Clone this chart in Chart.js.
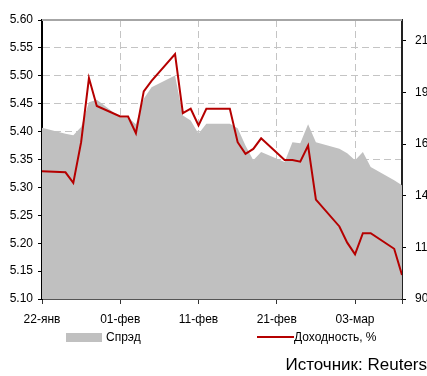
<!DOCTYPE html>
<html>
<head>
<meta charset="utf-8">
<script src="https://cdn.jsdelivr.net/npm/chart.js@4"></script>
<style>
  html, body { margin: 0; padding: 0; background: #fff; }
  #wrap { position: relative; width: 427px; height: 376px; overflow: hidden; font-family: "Liberation Sans", Arial, sans-serif; color: #000; }
  canvas { position: absolute; left: 0; top: 0; }
  .lg { position: absolute; font-size: 12px; line-height: 14px; white-space: nowrap; }
  .sw { position: absolute; }
  #src { position: absolute; right: 0; top: 355px; font-size: 17px; white-space: nowrap; }
</style>
</head>
<body>
<div id="wrap">
  <canvas id="c" width="427" height="376"></canvas>
  <div class="sw" style="left:66px;top:333px;width:36px;height:9px;background:#c0c0c0;"></div>
  <div class="lg" style="left:106px;top:330px;">Спрэд</div>
  <div class="sw" style="left:257px;top:336px;width:37px;height:2px;background:#b50000;"></div>
  <div class="lg" style="left:294px;top:330px;">Доходность, %</div>
  <div id="src">Источник: Reuters</div>
</div>
<script>
// Trading days, counted from 22 January
const dayOffsets = [0, 3, 4, 5, 6, 7, 10, 11, 12, 13, 14, 17, 18, 19, 20, 21, 24, 25, 26, 27, 28, 31, 32, 33, 34, 35, 38, 39, 40, 41, 42, 45, 46];
// Yield, % (left axis)
const yieldValues = [5.329, 5.327, 5.308, 5.381, 5.496, 5.446, 5.427, 5.427, 5.397, 5.472, 5.491, 5.539, 5.433, 5.441, 5.411, 5.441, 5.441, 5.381, 5.360, 5.369, 5.388, 5.349, 5.349, 5.346, 5.375, 5.278, 5.230, 5.201, 5.180, 5.218, 5.218, 5.190, 5.143];
// Spread, bp (right axis)
const spreadValues = [172.9, 170.0, 169.2, 173.2, 185.2, 186.4, 177.8, 177.8, 174.5, 186.9, 192.5, 198.1, 178.8, 176.4, 170.0, 174.8, 174.8, 172.6, 164.3, 157.1, 161.1, 156.3, 165.9, 165.4, 174.5, 165.9, 162.7, 160.5, 157.1, 161.1, 153.9, 147.4, 145.0];
// Date labels every ten days
const tickLabels = ['22-янв', '01-фев', '11-фев', '21-фев', '03-мар'];
// Right-axis tick values
const spreadTicks = [90, 115, 140, 165, 190, 215];

const font = { family: '"Liberation Sans", Arial, sans-serif', size: 12 };
const gridColor = '#c4c4c4';

const toPoints = (vals) => dayOffsets.map((d, i) => ({ x: d, y: vals[i] }));

// Solid grey frame line along the top of the plot
const topFrame = {
  id: 'topFrame',
  afterDatasetsDraw(chart) {
    const { ctx, chartArea: a } = chart;
    ctx.save();
    ctx.strokeStyle = '#a6a6a6';
    ctx.lineWidth = 2;
    ctx.beginPath();
    ctx.moveTo(a.left, a.top);
    ctx.lineTo(a.right, a.top);
    ctx.stroke();
    ctx.restore();
  }
};

new Chart(document.getElementById('c'), {
  type: 'line',
  data: {
    datasets: [
      {
        label: 'Доходность, %',
        data: toPoints(yieldValues),
        yAxisID: 'y',
        borderColor: '#b50000',
        borderWidth: 2,
        pointRadius: 0,
        fill: false,
        tension: 0,
        order: 0
      },
      {
        label: 'Спрэд',
        data: toPoints(spreadValues),
        yAxisID: 'y1',
        borderWidth: 0,
        borderColor: 'rgba(0,0,0,0)',
        backgroundColor: '#c0c0c0',
        pointRadius: 0,
        fill: 'start',
        tension: 0,
        order: 1
      }
    ]
  },
  options: {
    responsive: false,
    animation: false,
    layout: { padding: { top: 20, left: 0, right: 0, bottom: 0 } },
    plugins: { legend: { display: false }, tooltip: { enabled: false } },
    scales: {
      x: {
        type: 'linear',
        min: 0,
        max: 46,
        afterFit(s) { s.height = 77; },
        ticks: {
          stepSize: 10,
          autoSkip: false,
          maxRotation: 0,
          padding: 8,
          color: '#000',
          font,
          callback: (v) => tickLabels[Math.round(v / 10)] ?? ''
        },
        grid: {
          color: (ctx) => (ctx.tick && ctx.tick.value === 0 ? 'rgba(0,0,0,0)' : gridColor),
          lineWidth: 1,
          tickLength: 5,
          tickColor: '#333',
          tickWidth: 1,
          tickBorderDash: []
        },
        border: { display: true, color: '#555', width: 2, dash: [7, 4] }
      },
      y: {
        position: 'left',
        min: 5.10,
        max: 5.60,
        afterFit(s) { s.width = 42; },
        ticks: {
          stepSize: 0.05,
          padding: 5,
          color: '#000',
          font,
          callback: (v) => Number(v).toFixed(2)
        },
        grid: {
          color: (ctx) => {
            const v = ctx.tick ? ctx.tick.value : 0;
            return (Math.abs(v - 5.60) < 1e-6 || Math.abs(v - 5.10) < 1e-6) ? 'rgba(0,0,0,0)' : gridColor;
          },
          lineWidth: 1,
          tickLength: 4,
          tickColor: '#000',
          tickBorderDash: []
        },
        border: { display: true, color: '#000', width: 2, dash: [7, 4] }
      },
      y1: {
        position: 'right',
        min: 90,
        max: 225,
        afterFit(s) { s.width = 25; },
        afterBuildTicks(s) { s.ticks = spreadTicks.map((v) => ({ value: v })); },
        ticks: {
          padding: 9,
          color: '#000',
          font
        },
        grid: {
          drawOnChartArea: false,
          tickLength: 4,
          tickColor: '#000',
          tickBorderDash: []
        },
        border: { display: true, color: '#222', width: 2 }
      }
    }
  },
  plugins: [topFrame]
});
</script>
</body>
</html>
